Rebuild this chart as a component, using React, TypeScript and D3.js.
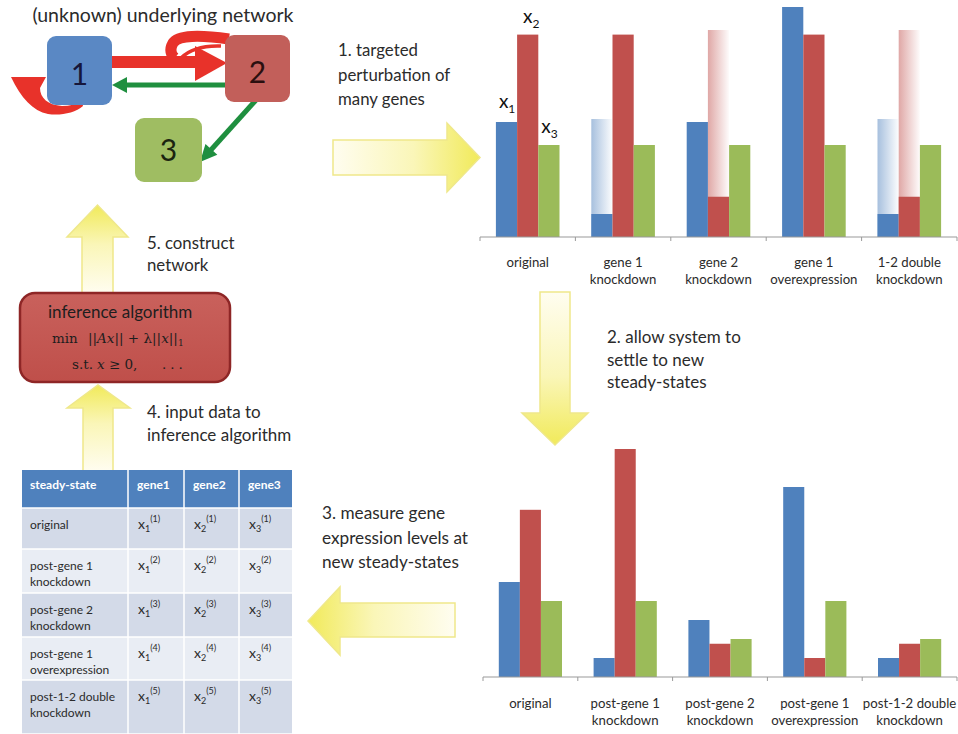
import React from 'react';
import * as d3 from 'd3';

// ---------- DATA ----------
const seriesNames = ['x1', 'x2', 'x3'];
const seriesColors = ['#4f81bd', '#c0504d', '#9bbb59'];

const topLabels = [['original'], ['gene 1', 'knockdown'], ['gene 2', 'knockdown'], ['gene 1', 'overexpression'], ['1-2 double', 'knockdown']];
const topX1 = [5, 1, 5, 10, 1];
const topX2 = [8.8, 8.8, 1.75, 8.8, 1.75];
const topX3 = [4, 4, 4, 4, 4];
const topGhostX1 = [0, 5.13, 0, 0, 5.13];
const topGhostX2 = [0, 0, 9, 0, 9];

const bottomLabels = [['original'], ['post-gene 1', 'knockdown'], ['post-gene 2', 'knockdown'], ['post-gene 1', 'overexpression'], ['post-1-2 double', 'knockdown']];
const botX1 = [5, 1, 3, 10, 1];
const botX2 = [8.8, 12, 1.75, 1, 1.75];
const botX3 = [4, 4, 2, 4, 2];

const tableHeader = ['steady-state', 'gene1', 'gene2', 'gene3'];
const tableRowLabels = [['original'], ['post-gene 1', 'knockdown'], ['post-gene 2', 'knockdown'], ['post-gene 1', 'overexpression'], ['post-1-2 double', 'knockdown']];

const SANS = "Lato, 'Open Sans', sans-serif";
const SERIF = "'DejaVu Serif', 'Liberation Serif', serif";
const TXT = '#2b2b2b';

type ChartProps = {
  labels: string[][];
  series: number[][];
  ghosts: (number[] | null)[];
  xRange: [number, number];
  yDomainMax: number;
  yRange: [number, number];
  labelY: number;
  id: string;
  showNames?: boolean;
};

function BarChart({ labels, series, ghosts, xRange, yDomainMax, yRange, labelY, id, showNames }: ChartProps) {
  const idx = labels.map((_, i) => i);
  const x = d3.scaleBand<number>().domain(idx).range(xRange).paddingInner(0).paddingOuter(0);
  const bw = x.bandwidth();
  const inner = d3.scaleBand<number>().domain([0, 1, 2]).range([bw / 6, (bw * 5) / 6]);
  const y = d3.scaleLinear().domain([0, yDomainMax]).range(yRange);
  const base = y(0);
  const ticks = [...idx.map((i) => x(i)!), xRange[1]];
  return (
    <g>
      <defs>
        {seriesColors.map((c, s) => (
          <linearGradient key={s} id={`${id}-ghost-${s}`} x1="0" x2="1" y1="0" y2="0">
            <stop offset="0" stopColor={c} stopOpacity={0.5} />
            <stop offset="1" stopColor={c} stopOpacity={0.02} />
          </linearGradient>
        ))}
      </defs>
      {idx.map((i) => (
        <g key={i}>
          {ghosts.map((g, s) =>
            g && g[i] > 0 ? (
              <rect key={'g' + s} x={x(i)! + inner(s)!} y={y(g[i])} width={inner.bandwidth()} height={base - y(g[i])} fill={`url(#${id}-ghost-${s})`} />
            ) : null
          )}
          {series.map((vals, s) => (
            <rect key={s} x={x(i)! + inner(s)!} y={y(vals[i])} width={inner.bandwidth()} height={base - y(vals[i])} fill={seriesColors[s]} />
          ))}
          {labels[i].map((line, k) => (
            <text key={k} x={x(i)! + bw / 2} y={labelY + k * 16.5} textAnchor="middle" fontSize={13.2} fontFamily={SANS} fill={TXT}>
              {line}
            </text>
          ))}
        </g>
      ))}
      <line x1={xRange[0]} x2={xRange[1]} y1={base} y2={base} stroke="#9a9a9a" strokeWidth={1.2} />
      {ticks.map((t, k) => (
        <line key={k} x1={t} x2={t} y1={base} y2={base + 4} stroke="#9a9a9a" strokeWidth={1} />
      ))}
      {showNames &&
        seriesNames.map((n, s) => {
          const bx = x(0)! + inner(s)!;
          const top = y(series[s][0]);
          const offs = [[3, -14], [6, -12], [3, -12]][s];
          return (
            <text key={n} x={bx + offs[0]} y={top + offs[1]} fontSize={19} fontFamily={SANS} fill="#111">
              x<tspan fontSize={12} dy={5}>{n.slice(1)}</tspan>
            </text>
          );
        })}
    </g>
  );
}

function YellowArrow({ points, id, dir }: { points: [number, number][]; id: string; dir: [number, number, number, number] }) {
  return (
    <g>
      <defs>
        <linearGradient id={id} x1={dir[0]} y1={dir[1]} x2={dir[2]} y2={dir[3]}>
          <stop offset="0" stopColor="#fffdf0" />
          <stop offset="0.55" stopColor="#faf6b8" />
          <stop offset="1" stopColor="#f1ea5a" />
        </linearGradient>
      </defs>
      <path d={d3.line()(points)! + 'Z'} fill={`url(#${id})`} stroke="#efe88a" strokeWidth={1.5} strokeLinejoin="miter" />
    </g>
  );
}

function arrowHead(tip: [number, number], from: [number, number], len: number, half: number) {
  const dx = tip[0] - from[0];
  const dy = tip[1] - from[1];
  const L = Math.hypot(dx, dy);
  const ux = dx / L, uy = dy / L;
  const bx = tip[0] - ux * len, by = tip[1] - uy * len;
  const px = -uy, py = ux;
  return `M${tip[0]},${tip[1]} L${bx + px * half},${by + py * half} L${bx - px * half},${by - py * half} Z`;
}

function TextBlock({ x, y, lines, size, gap }: { x: number; y: number; lines: string[]; size: number; gap: number }) {
  return (
    <g>
      {lines.map((l, k) => (
        <text key={k} x={x} y={y + k * gap} fontSize={size} fontFamily={SANS} fill={TXT}>
          {l}
        </text>
      ))}
    </g>
  );
}

function Network() {
  const red = '#e8322a';
  const green = '#1f8f3f';
  return (
    <g>
      <text x={163} y={22} textAnchor="middle" fontSize={19.5} fontFamily={SANS} fill={TXT}>
        (unknown) underlying network
      </text>
      {/* self loop on 1 */}
      <path d="M 11,77 L 46,77 L 40,88 C 40,98 48,105 62,106 C 70,106 76,104 82,101 L 83,106 C 75,113 60,116 48,114 C 33,111 21,98 11,77 Z" fill={red} />
      {/* self loop on 2 */}
      <path d="M 229,39 C 200,35 178,35 173,43 C 169,50 171,55 175,58" fill="none" stroke={red} strokeWidth={11} />
      <path d="M 181,58 Q 194,45 221,46" fill="none" stroke={red} strokeWidth={3.5} />
      {/* 1 -> 2 */}
      <rect x={110} y={56} width={90} height={12} fill={red} />
      <path d="M 195,46 L 227,63 L 195,81 Z" fill={red} />
      {/* 2 -> 1 */}
      <line x1={228} x2={124} y1={85} y2={85} stroke={green} strokeWidth={5} />
      <path d={arrowHead([112, 85], [228, 85], 15, 8)} fill={green} />
      {/* 2 -> 3 */}
      <line x1={256} y1={100} x2={210} y2={151} stroke={green} strokeWidth={5} />
      <path d={arrowHead([200, 162], [256, 100], 17, 8)} fill={green} />
      {/* nodes */}
      <rect x={47} y={36} width={65} height={69} rx={9} fill="#5a88c4" />
      <rect x={225} y={35} width={65} height={67} rx={9} fill="#c25f5a" />
      <rect x={135} y={118} width={67} height={64} rx={9} fill="#9fbd62" />
      <text x={79.5} y={85} textAnchor="middle" fontSize={30} fontFamily={SANS} fill="#16163a">1</text>
      <text x={257.5} y={83} textAnchor="middle" fontSize={30} fontFamily={SANS} fill="#2a0f0f">2</text>
      <text x={168.5} y={161} textAnchor="middle" fontSize={30} fontFamily={SANS} fill="#1b2410">3</text>
    </g>
  );
}

function Inference() {
  return (
    <g>
      <defs>
        <linearGradient id="infGrad" x1="0" y1="0" x2="0" y2="1">
          <stop offset="0" stopColor="#c9615c" />
          <stop offset="1" stopColor="#bf4f4a" />
        </linearGradient>
      </defs>
      <rect x={20} y={293} width={210} height={89} rx={15} fill="url(#infGrad)" stroke="#8e2626" strokeWidth={2.5} />
      <text x={48} y={318} fontSize={17} fontFamily={SANS} fill="#1e1e1e">inference algorithm</text>
      <text x={52} y={343} fontSize={13.5} fontFamily={SERIF} fill="#1e1e1e">
        min
        <tspan x={88}>||</tspan>
        <tspan fontStyle="italic">Ax</tspan>
        <tspan>|| + λ||</tspan>
        <tspan fontStyle="italic">x</tspan>
        <tspan>||</tspan>
        <tspan fontSize={9} dy={3}>1</tspan>
      </text>
      <text x={72} y={369} fontSize={13.5} fontFamily={SERIF} fill="#1e1e1e">
        s.t.
        <tspan x={97} fontStyle="italic">x</tspan>
        <tspan> ≥ 0,</tspan>
        <tspan x={162} letterSpacing={4}>...</tspan>
      </text>
    </g>
  );
}

function Table() {
  const colEdges = [22, 128, 184, 239, 292];
  const rowEdges = [470, 508, 549, 593, 637, 680, 734];
  const gap = 1.5;
  const rowFills = ['#d3dae8', '#e9edf4'];
  return (
    <g>
      {rowEdges.slice(0, -1).map((top, r) => (
        <g key={r}>
          {colEdges.slice(0, -1).map((left, c) => (
            <rect
              key={c}
              x={left + (c > 0 ? gap / 2 : 0)}
              y={top + (r > 0 ? gap / 2 : 0)}
              width={colEdges[c + 1] - left - (c > 0 ? gap / 2 : 0) - (c < 3 ? gap / 2 : 0)}
              height={rowEdges[r + 1] - top - (r > 0 ? gap / 2 : 0) - gap / 2}
              fill={r === 0 ? '#4f81bd' : rowFills[(r - 1) % 2]}
            />
          ))}
        </g>
      ))}
      {tableHeader.map((h, c) => (
        <text key={h} x={colEdges[c] + (c === 0 ? 8 : 9)} y={489} fontSize={12} fontWeight="bold" fontFamily={SANS} fill="#ffffff">
          {h}
        </text>
      ))}
      {tableRowLabels.map((lines, r) => {
        const top = rowEdges[r + 1];
        return (
          <g key={r}>
            {lines.map((l, k) => (
              <text key={k} x={30} y={top + 21 + k * 15.5} fontSize={12} fontFamily={SANS} fill={TXT}>
                {l}
              </text>
            ))}
            {[1, 2, 3].map((g, c) => (
              <text key={g} x={colEdges[c + 1] + 10} y={top + 21} fontSize={14} fontFamily={SANS} fill={TXT}>
                x<tspan fontSize={9} dy={3}>{g}</tspan>
                <tspan fontSize={9} dy={-10}>{`(${r + 1})`}</tspan>
              </text>
            ))}
          </g>
        );
      })}
    </g>
  );
}

export default function App() {
  return (
    <svg width={958} height={734} viewBox="0 0 958 734" style={{ position: 'absolute', left: 0, top: 0, background: '#fff' }}>
      <rect x={0} y={0} width={958} height={734} fill="#fff" />
      <Network />
      <BarChart
        id="top"
        labels={topLabels}
        series={[topX1, topX2, topX3]}
        ghosts={[topGhostX1, topGhostX2, null]}
        xRange={[480, 957]}
        yDomainMax={10}
        yRange={[237, 7]}
        labelY={267}
        showNames
      />
      <BarChart
        id="bot"
        labels={bottomLabels}
        series={[botX1, botX2, botX3]}
        ghosts={[null, null, null]}
        xRange={[483, 957]}
        yDomainMax={12}
        yRange={[677, 449]}
        labelY={708}
      />
      <YellowArrow id="yaRight" dir={[0, 0, 1, 0]} points={[[333, 140], [447, 140], [447, 123], [480, 157.5], [447, 192], [447, 175], [333, 175]]} />
      <YellowArrow id="yaDown" dir={[0, 0, 0, 1]} points={[[540, 292], [570, 292], [570, 413], [588, 413], [555, 445], [522, 413], [540, 413]]} />
      <YellowArrow id="yaLeft" dir={[1, 0, 0, 0]} points={[[455, 603], [340, 603], [340, 587], [308, 621], [340, 655], [340, 637], [455, 637]]} />
      <YellowArrow id="yaUp5" dir={[0, 1, 0, 0]} points={[[82, 293], [82, 237], [67, 237], [97.5, 205], [128, 237], [113, 237], [113, 293]]} />
      <YellowArrow id="yaUp4" dir={[0, 1, 0, 0]} points={[[83, 471], [83, 408], [67, 408], [98, 385], [130, 408], [113, 408], [113, 471]]} />
      <Inference />
      <Table />
      <TextBlock x={338} y={56} lines={['1. targeted', 'perturbation of', 'many genes']} size={16.8} gap={24.5} />
      <TextBlock x={607} y={343} lines={['2. allow system to', 'settle to new', 'steady-states']} size={17} gap={22.5} />
      <TextBlock x={322} y={519} lines={['3. measure gene', 'expression levels at', 'new steady-states']} size={17.2} gap={24.5} />
      <TextBlock x={147} y={249} lines={['5. construct', 'network']} size={16.8} gap={22} />
      <TextBlock x={147} y={418} lines={['4. input data to', 'inference algorithm']} size={17} gap={23} />
    </svg>
  );
}
